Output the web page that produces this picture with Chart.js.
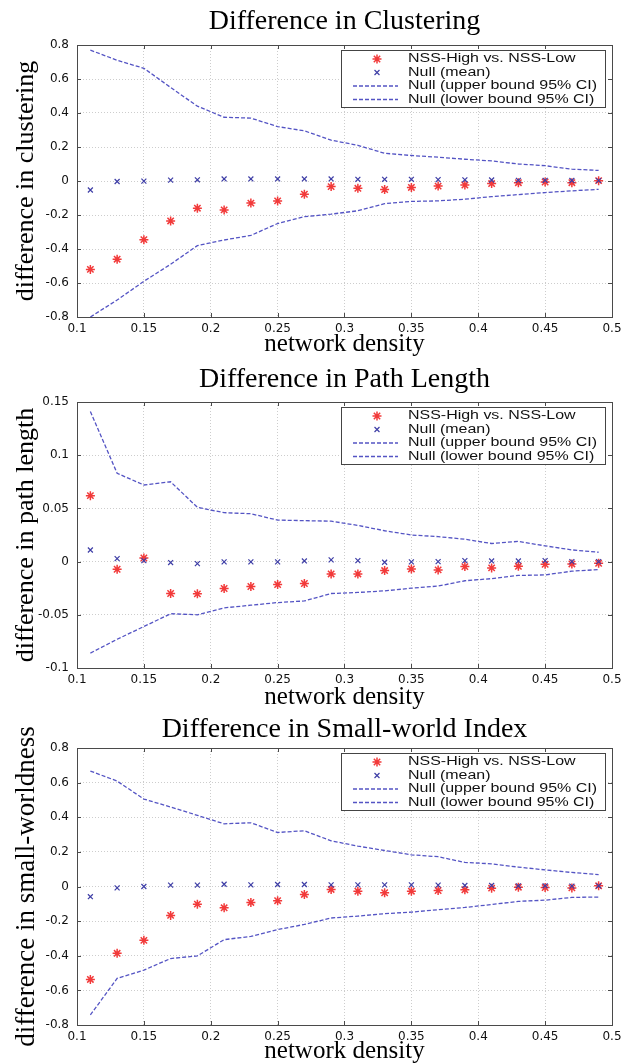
<!DOCTYPE html>
<html>
<head>
<meta charset="utf-8">
<script src="https://cdn.jsdelivr.net/npm/chart.js@4.4.0/dist/chart.umd.min.js"></script>
<style>
body{margin:0;background:#fff;width:638px;height:1064px;position:relative;overflow:hidden;}
canvas{position:absolute;left:0;}
</style>
</head>
<body>
<canvas id="c1" width="638" height="358" style="top:0px"></canvas>
<canvas id="c2" width="638" height="358" style="top:358px"></canvas>
<canvas id="c3" width="638" height="348" style="top:716px"></canvas>
<script>

const density = [0.11,0.13,0.15,0.17,0.19,0.21,0.23,0.25,0.27,0.29,0.31,0.33,0.35,0.37,0.39,0.41,0.43,0.45,0.47,0.49];
const xTicks = [0.1,0.15,0.2,0.25,0.3,0.35,0.4,0.45,0.5];
const seriesNames = ['NSS-High vs. NSS-Low','Null (mean)','Null (upper bound 95% CI)','Null (lower bound 95% CI)'];

const clustObs   = [-0.52,-0.46,-0.345,-0.235,-0.16,-0.17,-0.13,-0.117,-0.078,-0.033,-0.043,-0.05,-0.038,-0.03,-0.024,-0.015,-0.01,-0.006,-0.01,0.002];
const clustMean  = [-0.053,-0.003,-0.001,0.005,0.007,0.012,0.012,0.012,0.012,0.012,0.01,0.01,0.01,0.008,0.007,0.006,0.004,0.004,0.003,0.002];
const clustUpper = [0.77,0.71,0.663,0.55,0.44,0.375,0.37,0.32,0.295,0.24,0.21,0.163,0.15,0.14,0.128,0.118,0.1,0.09,0.07,0.062];
const clustLower = [-0.80,-0.70,-0.59,-0.49,-0.38,-0.347,-0.32,-0.25,-0.21,-0.195,-0.175,-0.133,-0.12,-0.117,-0.107,-0.092,-0.08,-0.068,-0.058,-0.049];

const pathObs   = [0.062,-0.0072,0.0034,-0.030,-0.0303,-0.0253,-0.0234,-0.0216,-0.0206,-0.0116,-0.0116,-0.0084,-0.0069,-0.0078,-0.0047,-0.0059,-0.0044,-0.0025,-0.0022,-0.0016];
const pathMean  = [0.0109,0.0028,0.0009,-0.0009,-0.0019,-0.0003,-0.0003,-0.0003,0.0006,0.0016,0.0009,-0.0006,-0.0003,0,0.0009,0.0006,0.0006,0.0009,0,0];
const pathUpper = [0.141,0.083,0.072,0.075,0.051,0.046,0.045,0.039,0.0385,0.038,0.034,0.029,0.025,0.0235,0.021,0.017,0.019,0.0148,0.011,0.0088];
const pathLower = [-0.086,-0.073,-0.061,-0.049,-0.050,-0.0435,-0.041,-0.0385,-0.037,-0.030,-0.029,-0.0275,-0.025,-0.023,-0.018,-0.016,-0.013,-0.0125,-0.009,-0.0075];

const swObs   = [-0.537,-0.386,-0.311,-0.167,-0.102,-0.123,-0.092,-0.082,-0.046,-0.017,-0.027,-0.036,-0.027,-0.023,-0.019,-0.0096,-0.004,-0.006,-0.008,0.004];
const swMean  = [-0.059,-0.008,0,0.008,0.008,0.013,0.0096,0.0115,0.0115,0.0096,0.0096,0.0096,0.0096,0.008,0.006,0.006,0.004,0.004,0.002,0.004];
const swUpper = [0.667,0.609,0.505,0.459,0.411,0.362,0.368,0.312,0.322,0.264,0.233,0.208,0.183,0.172,0.139,0.131,0.112,0.096,0.081,0.069];
const swLower = [-0.742,-0.531,-0.483,-0.416,-0.401,-0.307,-0.288,-0.249,-0.219,-0.182,-0.171,-0.157,-0.148,-0.134,-0.121,-0.104,-0.086,-0.079,-0.063,-0.061];

const RED = '#f23a3a';
const NAVY = '#3e3ea6';
const DASH = '#5454c4';

function pts(arr){
    return arr.map((v, i) => ({x: density[i], y: v}));
}

const framePlugin = {
    id: 'frame',
    afterDatasetsDraw(chart){
        const ctx = chart.ctx;
        const a = chart.chartArea;
        const xs = chart.scales.x, ys = chart.scales.y;
        ctx.save();
        ctx.strokeStyle = '#4a4a4a';
        ctx.lineWidth = 1;
        ctx.beginPath();
        xs.ticks.forEach(t => {
            const px = Math.round(xs.getPixelForValue(t.value)) + 0.5;
            ctx.moveTo(px, a.bottom); ctx.lineTo(px, a.bottom - 4);
            ctx.moveTo(px, a.top); ctx.lineTo(px, a.top + 4);
        });
        ys.ticks.forEach(t => {
            const py = Math.round(ys.getPixelForValue(t.value)) + 0.5;
            ctx.moveTo(a.left, py); ctx.lineTo(a.left + 4, py);
            ctx.moveTo(a.right, py); ctx.lineTo(a.right - 4, py);
        });
        ctx.stroke();
        ctx.strokeRect(Math.round(a.left) + 0.5, Math.round(a.top) + 0.5, Math.round(a.right - a.left), Math.round(a.bottom - a.top));

        // legend box, top right inside the axes
        const w = 264, h = 57;
        const x0 = Math.round(a.right) - 7 - w, y0 = Math.round(a.top) + 5;
        ctx.fillStyle = '#fff';
        ctx.fillRect(x0, y0, w, h);
        ctx.strokeStyle = '#444';
        ctx.strokeRect(x0 + 0.5, y0 + 0.5, w, h);
        chart.data.datasets.forEach((ds, i) => {
            const y = y0 + 9 + i * 13.5;
            ctx.strokeStyle = ds.borderColor;
            ctx.lineWidth = ds.borderWidth;
            if(ds.showLine){
                ctx.setLineDash(ds.borderDash);
                ctx.beginPath();
                ctx.moveTo(x0 + 12, y); ctx.lineTo(x0 + 57, y);
                ctx.stroke();
                ctx.setLineDash([]);
            }else{
                Chart.helpers.drawPoint(ctx, {pointStyle: ds.pointStyle, radius: ds.pointRadius, rotation: 0, borderWidth: ds.borderWidth}, x0 + 36, y);
            }
            ctx.save();
            ctx.fillStyle = '#111';
            ctx.font = '12px "Liberation Sans"';
            ctx.textBaseline = 'middle';
            ctx.translate(x0 + 67, y);
            ctx.scale(1.33, 1);
            ctx.fillText(ds.label, 0, 0);
            ctx.restore();
        });
        ctx.restore();
    }
};

function makePanel(id, p){
    const ctx = document.getElementById(id);
    new Chart(ctx, {
        type: 'scatter',
        plugins: [framePlugin],
        data: {
            datasets: [
                {
                    label: seriesNames[0], data: pts(p.obs), order: 1,
                    pointStyle: 'star', pointRadius: 4.5, borderColor: RED, backgroundColor: RED, borderWidth: 1.5
                },
                {
                    label: seriesNames[1], data: pts(p.mean), order: 0,
                    pointStyle: 'crossRot', pointRadius: 3.5, borderColor: NAVY, backgroundColor: NAVY, borderWidth: 1.2
                },
                {
                    label: seriesNames[2], data: pts(p.upper), order: 2, showLine: true,
                    pointRadius: 0, borderColor: DASH, borderWidth: 1.3, borderDash: [4, 2], tension: 0
                },
                {
                    label: seriesNames[3], data: pts(p.lower), order: 2, showLine: true,
                    pointRadius: 0, borderColor: DASH, borderWidth: 1.3, borderDash: [4, 2], tension: 0
                }
            ]
        },
        options: {
            responsive: false,
            animation: false,
            events: [],
            layout: {padding: {left: 0, right: 26, top: 0, bottom: 0}},
            plugins: {
                legend: {display: false},
                tooltip: {enabled: false},
                title: {
                    display: true,
                    text: p.title,
                    fullSize: false,
                    color: '#000',
                    font: {family: '"Liberation Serif"', size: 28, weight: 'normal', lineHeight: 1},
                    padding: p.titlePad
                }
            },
            scales: {
                x: {
                    type: 'linear', min: 0.1, max: 0.5,
                    afterBuildTicks: s => { s.ticks = xTicks.map(v => ({value: v})); },
                    afterFit: s => { s.height = p.xH; },
                    ticks: {
                        autoSkip: false, maxRotation: 0, padding: 5, color: '#111',
                        font: {family: '"DejaVu Sans"', size: 12},
                        callback: v => String(+v.toFixed(2))
                    },
                    grid: {color: '#cdcdcd', drawTicks: false},
                    border: {display: false, dash: [1, 2]},
                    title: {
                        display: true, text: 'network density', color: '#000',
                        font: {family: '"Liberation Serif"', size: 25, lineHeight: 1},
                        padding: {top: 0, bottom: p.xTitlePad}
                    }
                },
                y: {
                    type: 'linear', min: p.yMin, max: p.yMax,
                    afterBuildTicks: s => { s.ticks = p.yTicks.map(v => ({value: v})); },
                    afterFit: s => { s.width = 77; },
                    ticks: {
                        padding: 8, color: '#111',
                        font: {family: '"DejaVu Sans"', size: 12},
                        callback: v => String(+v.toFixed(2))
                    },
                    grid: {color: '#cdcdcd', drawTicks: false},
                    border: {display: false, dash: [1, 2]},
                    title: {
                        display: true, text: p.yTitle, color: '#000',
                        font: {family: '"Liberation Serif"', size: p.ySize, lineHeight: 1},
                        padding: {top: 13, bottom: 0}
                    }
                }
            }
        }
    });
}

makePanel('c1', {
    title: 'Difference in Clustering', yTitle: 'difference in clustering', ySize: 26,
    yMin: -0.8, yMax: 0.8, yTicks: [-0.8,-0.6,-0.4,-0.2,0,0.2,0.4,0.6,0.8],
    obs: clustObs, mean: clustMean, upper: clustUpper, lower: clustLower,
    titlePad: {top: 8, bottom: 9}, xH: 41, xTitlePad: 1
});

makePanel('c2', {
    title: 'Difference in Path Length', yTitle: 'difference in path length', ySize: 26,
    yMin: -0.1, yMax: 0.15, yTicks: [-0.1,-0.05,0,0.05,0.1,0.15],
    obs: pathObs, mean: pathMean, upper: pathUpper, lower: pathLower,
    titlePad: {top: 8, bottom: 8}, xH: 48, xTitlePad: 6
});

makePanel('c3', {
    title: 'Difference in Small-world Index', yTitle: 'difference in small-worldness', ySize: 27,
    yMin: -0.8, yMax: 0.8, yTicks: [-0.8,-0.6,-0.4,-0.2,0,0.2,0.4,0.6,0.8],
    obs: swObs, mean: swMean, upper: swUpper, lower: swLower,
    titlePad: {top: 0, bottom: 4}, xH: 39, xTitlePad: 0
});

</script>
</body>
</html>
